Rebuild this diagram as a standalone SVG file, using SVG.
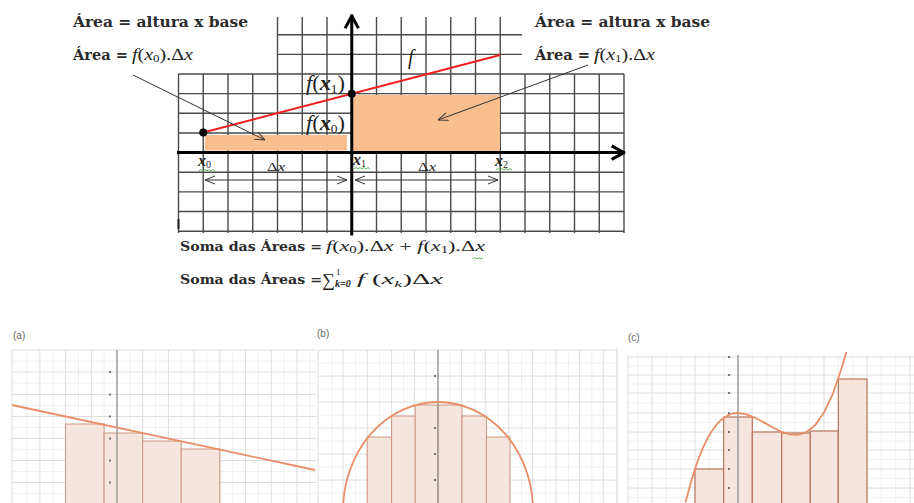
<svg xmlns="http://www.w3.org/2000/svg" width="914" height="503" viewBox="0 0 914 503">
<style>
.hd{font-family:"DejaVu Serif","Liberation Serif",serif;font-weight:bold;font-size:14px;fill:#2a2a2a}
.sm{font-family:"DejaVu Serif","Liberation Serif",serif;font-weight:bold;font-size:13px;fill:#2a2a2a}
.m{font-family:"Liberation Serif","DejaVu Serif",serif;fill:#222}
.i{font-style:italic}
.grid{stroke:#4a4a4a;stroke-width:1.4;fill:none}
.ax{stroke:#000;stroke-width:3;fill:none;stroke-linecap:square}
.ptr{stroke:#333;stroke-width:1;fill:none}
.wavy{stroke:#4caf50;stroke-width:0.9;fill:none}
.bar{fill:#f8be8e}
.pl{font-family:"Liberation Sans",Arial,sans-serif;font-size:10px;fill:#666}
.gmaj{stroke:#dedede;stroke-width:1;fill:none}
.gmin{stroke:#f0f0f0;stroke-width:1;fill:none}
.pax{stroke:#9a9a9a;stroke-width:1.5;fill:none}
.tick{stroke:#777;stroke-width:2;fill:none}
.pr{fill:#f6e5dd;stroke:#cc9580;stroke-width:1}
.pr2{fill:#f6e5dd;stroke:#b8735c;stroke-width:1.2}
.cur{stroke:#e98f68;stroke-width:1.8;fill:none}
</style>
<defs>
<marker id="chev" viewBox="0 0 10 10" refX="10" refY="5" markerWidth="10" markerHeight="10" markerUnits="userSpaceOnUse" orient="auto-start-reverse">
<path d="M0,1 L10,5 L0,9" fill="none" stroke="#333" stroke-width="1"/>
</marker>
</defs>

<g id="grid">
<path class="grid" d="M178.5,74V233 M203.25,74V233 M228,74V233 M252.75,74V233 M277.5,17V233 M302.25,17V233 M327,17V233 M376.5,17V233 M401.25,17V233 M426,17V233 M450.75,17V233 M475.5,17V233 M500.25,17V233 M525,74V233 M549.75,74V233 M574.5,74V233 M599.25,74V233 M624,74V233"/>
<path class="grid" d="M277.5,34.7H522 M277.5,54.35H522 M178.5,74H624 M178.5,93.65H624 M178.5,113.3H624 M178.5,132.95H624 M178.5,172.25H624 M178.5,191.9H624 M178.5,211.55H624 M178.5,231.2H624"/>
<path d="M178.5,219V229" stroke="#222" stroke-width="2"/>
</g>

<g id="bars">
<rect class="bar" x="205" y="135" width="142" height="15.5"/>
<rect class="bar" x="351" y="95" width="149" height="57"/>
</g>

<g id="axes">
<path class="ax" d="M178.5,152.6H623"/>
<path class="ax" d="M613,146.6L624,152.6L613,158.6" stroke-linecap="round" stroke-linejoin="round"/>
<path class="ax" d="M351.75,234V16"/>
<path class="ax" d="M345.75,27L351.75,16L357.75,27" stroke-linecap="round" stroke-linejoin="round"/>
</g>

<g id="function-f">
<path d="M203.25,132.5L500.25,55" stroke="#f01e1e" stroke-width="2"/>
<circle cx="203.25" cy="132.5" r="4" fill="#000"/>
<circle cx="351.75" cy="93.8" r="4" fill="#000"/>
<text class="m i" x="408" y="64" font-size="20">f</text>
</g>

<g id="labels-graph">
<text class="m" x="306" y="90" font-size="20" textLength="39" lengthAdjust="spacingAndGlyphs"><tspan class="i">f</tspan>(<tspan class="i" font-weight="bold">x</tspan><tspan font-size="12" dy="3">1</tspan><tspan dy="-3">)</tspan></text>
<text class="m" x="306" y="130" font-size="20" textLength="39" lengthAdjust="spacingAndGlyphs"><tspan class="i">f</tspan>(<tspan class="i" font-weight="bold">x</tspan><tspan font-size="12" dy="3">0</tspan><tspan dy="-3">)</tspan></text>
<text class="m" x="198" y="166" font-size="16"><tspan class="i" font-weight="bold">x</tspan><tspan font-size="10" dy="2">0</tspan></text>
<text class="m" x="353" y="165" font-size="16"><tspan class="i" font-weight="bold">x</tspan><tspan font-size="10" dy="2">1</tspan></text>
<text class="m" x="495" y="166" font-size="16"><tspan class="i" font-weight="bold">x</tspan><tspan font-size="10" dy="2">2</tspan></text>
<path class="wavy" d="M199,171l2,-1.5l2,1.5l2,-1.5l2,1.5l2,-1.5l2,1.5l2,-1.5l2,1.5"/>
<path class="wavy" d="M354,169l2,-1.5l2,1.5l2,-1.5l2,1.5l2,-1.5l2,1.5l2,-1.5l2,1.5"/>
<path class="wavy" d="M496,170l2,-1.5l2,1.5l2,-1.5l2,1.5l2,-1.5l2,1.5l2,-1.5l2,1.5"/>
<text class="m" x="267" y="171" font-size="13" textLength="18" lengthAdjust="spacingAndGlyphs">Δ<tspan class="i">x</tspan></text>
<text class="m" x="418" y="171" font-size="13" textLength="18" lengthAdjust="spacingAndGlyphs">Δ<tspan class="i">x</tspan></text>
</g>

<g id="connectors">
<path class="ptr" d="M133,75L265,140" marker-end="url(#chev)"/>
<path class="ptr" d="M588,65L438,120" marker-end="url(#chev)"/>
<path class="ptr" d="M205,180H347" marker-start="url(#chev)" marker-end="url(#chev)"/>
<path class="ptr" d="M355,180H498" marker-start="url(#chev)" marker-end="url(#chev)"/>
</g>

<g id="note-left">
<text class="hd" x="73" y="27" textLength="175" lengthAdjust="spacingAndGlyphs">Área = altura x base</text>
<text class="hd" x="73" y="60" textLength="55" lengthAdjust="spacingAndGlyphs">Área =</text>
<text class="m" x="132" y="60" font-size="17" textLength="61" lengthAdjust="spacingAndGlyphs"><tspan class="i">f</tspan>(<tspan class="i">x</tspan><tspan font-size="11" dy="2">0</tspan><tspan dy="-2">).Δ</tspan><tspan class="i">x</tspan></text>
</g>

<g id="note-right">
<text class="hd" x="535" y="27" textLength="175" lengthAdjust="spacingAndGlyphs">Área = altura x base</text>
<text class="hd" x="535" y="60" textLength="55" lengthAdjust="spacingAndGlyphs">Área =</text>
<text class="m" x="594" y="60" font-size="17" textLength="61" lengthAdjust="spacingAndGlyphs"><tspan class="i">f</tspan>(<tspan class="i">x</tspan><tspan font-size="11" dy="2">1</tspan><tspan dy="-2">).Δ</tspan><tspan class="i">x</tspan></text>
</g>

<g id="sums">
<text class="sm" x="180" y="251" textLength="142" lengthAdjust="spacingAndGlyphs">Soma das Áreas =</text>
<text class="m" x="326" y="251" font-size="15" textLength="159" lengthAdjust="spacingAndGlyphs"><tspan class="i">f</tspan>(<tspan class="i">x</tspan><tspan font-size="10" dy="2">0</tspan><tspan dy="-2">).Δ</tspan><tspan class="i">x</tspan> + <tspan class="i">f</tspan>(<tspan class="i">x</tspan><tspan font-size="10" dy="2">1</tspan><tspan dy="-2">).Δ</tspan><tspan class="i">x</tspan></text>
<path class="wavy" d="M473,259l2,-1.5l2,1.5l2,-1.5l2,1.5l2,-1.5"/>
<text class="sm" x="180" y="284" textLength="142" lengthAdjust="spacingAndGlyphs">Soma das Áreas =</text>
<text class="m" x="322" y="286" font-size="18">∑</text>
<text class="m" x="336" y="275" font-size="9">1</text>
<text class="m i" x="335" y="287" font-size="10" font-weight="bold">k=0</text>
<text class="m" x="357" y="284" font-size="14" textLength="86" lengthAdjust="spacingAndGlyphs"><tspan class="i">f</tspan> (<tspan class="i">x</tspan><tspan class="i" font-size="9" dy="3">k</tspan><tspan dy="-3">)Δ</tspan><tspan class="i">x</tspan></text>
</g>

<g id="panel-a">
<text class="pl" x="13" y="339">(a)</text>
<path class="gmin" d="M27,350V503 M52.75,350V503 M78.45,350V503 M104.15,350V503 M129.85,350V503 M155.55,350V503 M181.25,350V503 M206.95,350V503 M232.65,350V503 M258.35,350V503 M284.05,350V503 M309.75,350V503 M12,361H316 M12,383H316 M12,405.5H316 M12,427.5H316 M12,449.5H316 M12,471.5H316 M12,493.5H316"/>
<path class="gmaj" d="M12,350V503 M39.9,350V503 M65.6,350V503 M91.3,350V503 M142.7,350V503 M168.4,350V503 M194.1,350V503 M219.8,350V503 M245.5,350V503 M271.2,350V503 M296.9,350V503 M12,350H316 M12,372H316 M12,394.5H316 M12,416.5H316 M12,438.5H316 M12,460.5H316 M12,482.5H316"/>
<rect class="pr" x="65.6" y="424" width="38.5" height="80"/>
<rect class="pr" x="104.1" y="433" width="38.6" height="71"/>
<rect class="pr" x="142.7" y="441" width="38.5" height="63"/>
<rect class="pr" x="181.2" y="449" width="38.6" height="55"/>
<path class="pax" d="M117,350V503"/>
<path class="tick" d="M109,372h2 M109,394.5h2 M109,416.5h2 M109,438.5h2 M109,460.5h2 M109,482.5h2"/>
<path class="cur" d="M12,405L315,470"/>
</g>

<g id="panel-b">
<text class="pl" x="317" y="337">(b)</text>
<path class="gmin" d="M332,350V503 M355.4,350V503 M379.4,350V503 M403.4,350V503 M426.2,350V503 M450.2,350V503 M474.8,350V503 M498.6,350V503 M521.6,350V503 M545.4,350V503 M568.6,350V503 M591.8,350V503 M318,363H617 M318,389H617 M318,415H617 M318,441H617 M318,467H617 M318,493H617"/>
<path class="gmaj" d="M318,350V503 M343,350V503 M367.2,350V503 M391.6,350V503 M414.4,350V503 M461.6,350V503 M485.2,350V503 M508.8,350V503 M532.4,350V503 M556,350V503 M579.6,350V503 M603.2,350V503 M617,350V503 M318,350H617 M318,376H617 M318,402H617 M318,428H617 M318,454H617 M318,480H617"/>
<rect class="pr" x="367.2" y="437" width="24.4" height="67"/>
<rect class="pr" x="391.6" y="416" width="23.6" height="88"/>
<rect class="pr" x="415.2" y="405" width="22.8" height="99"/>
<rect class="pr" x="438" y="405" width="24" height="99"/>
<rect class="pr" x="462" y="416" width="24.4" height="88"/>
<rect class="pr" x="486.4" y="437" width="23.6" height="67"/>
<path class="pax" d="M438,350V503"/>
<path class="tick" d="M434,376h2 M434,428h2 M434,454h2 M434,480h2"/>
<ellipse class="cur" cx="438" cy="511" rx="95" ry="109"/>
</g>

<g id="panel-c">
<text class="pl" x="628" y="341">(c)</text>
<path class="gmin" d="M637.7,355V503 M666.3,355V503 M680.7,355V503 M709.3,355V503 M723.7,355V503 M752.3,355V503 M766.7,355V503 M795.3,355V503 M809.7,355V503 M838.3,355V503 M852.7,355V503 M881.3,355V503 M895.7,355V503 M628,366H914 M628,384H914 M628,403H914 M628,422.5H914 M628,441H914 M628,459.5H914 M628,478.5H914 M628,497.5H914"/>
<path class="gmaj" d="M628,355V503 M652,355V503 M695,355V503 M781,355V503 M824,355V503 M867,355V503 M910,355V503 M628,357H914 M628,375H914 M628,393H914 M628,413H914 M628,432H914 M628,450H914 M628,469H914 M628,488H914"/>
<path d="M617,348V503" stroke="#e4e4e4" stroke-width="1.2"/>
<rect class="pr2" x="695" y="469" width="28.7" height="35"/>
<rect class="pr2" x="723.7" y="417" width="28.6" height="87"/>
<rect class="pr2" x="752.3" y="432" width="29.4" height="72"/>
<rect class="pr2" x="781.7" y="433" width="28.6" height="71"/>
<rect class="pr2" x="810.3" y="431" width="28" height="73"/>
<rect class="pr2" x="838.3" y="379" width="28.7" height="125"/>
<path class="pax" d="M738,355V503" stroke="#8a8a8a" stroke-width="2"/>
<path class="tick" d="M728,357h2 M728,375h2 M728,393h2 M728,413h2 M728,432h2 M728,450h2 M728,469h2 M728,488h2"/>
<path class="cur" d="M685.5,502.3L686.4,498.9L690.7,482.9L695,468.9L699.3,456.8L703.6,446.4L707.9,437.7L712.2,430.4L716.5,424.6L720.8,420.2L725.1,416.9L729.4,414.6L733.7,413.4L738,413L746.6,414.3L755.2,417.8L763.8,422.4L772.4,427.3L781,431.6L789.6,434.4L798.2,434.8L806.8,431.9L815.4,424.8L824,412.6L832.6,394.5L841.2,369.5L846.4,352"/>
</g>
</svg>
